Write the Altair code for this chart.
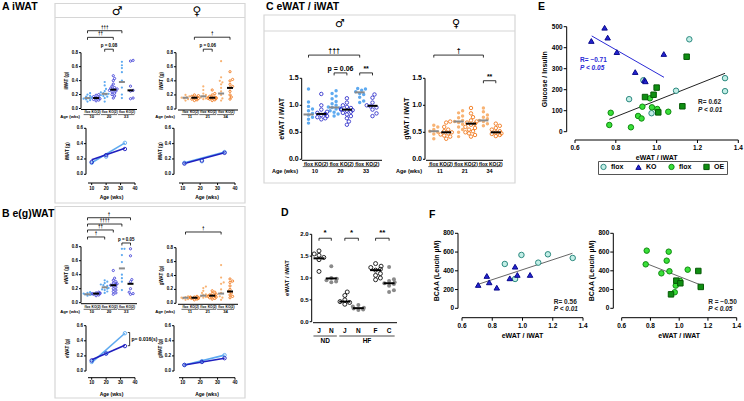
import altair as alt
import numpy as np
import pandas as pd

W, H = 744, 401
FONT = "Liberation Sans"

# ---------------- data ----------------
GROUPS = ["flox", "KO(2)", "flox", "KO(2)", "flox", "KO(2)"]
AGES_M = [10, 20, 33]
AGES_F = [11, 21, 34]

# A iWAT (g)
A_M = [
    [0.22, 0.20, 0.18, 0.17, 0.16, 0.15, 0.15, 0.14, 0.13, 0.12, 0.10],
    [0.20, 0.19, 0.17, 0.16, 0.15, 0.14, 0.13, 0.12, 0.11],
    [0.38, 0.33, 0.28, 0.25, 0.23, 0.22, 0.21, 0.20, 0.19, 0.18, 0.17, 0.15, 0.10],
    [0.47, 0.43, 0.40, 0.35, 0.32, 0.30, 0.29, 0.28, 0.27, 0.26, 0.25, 0.24, 0.22, 0.20, 0.18, 0.15],
    [0.67, 0.62, 0.58, 0.52, 0.40, 0.30, 0.20, 0.15],
    [0.69, 0.68, 0.32, 0.26, 0.25, 0.15, 0.14],
]
A_M_MED = [0.15, 0.15, 0.21, 0.27, 0.38, 0.26]
A_F = [
    [0.20, 0.18, 0.17, 0.16, 0.15, 0.14, 0.12],
    [0.20, 0.19, 0.18, 0.17, 0.16, 0.15, 0.14, 0.13, 0.12],
    [0.32, 0.27, 0.22, 0.20, 0.18, 0.17, 0.16, 0.15, 0.14],
    [0.27, 0.22, 0.20, 0.18, 0.17, 0.16, 0.16, 0.15, 0.15, 0.14, 0.13, 0.12],
    [0.68, 0.45, 0.40, 0.38, 0.35, 0.30, 0.25, 0.20, 0.15, 0.12],
    [0.53, 0.42, 0.40, 0.35, 0.32, 0.30, 0.25, 0.20, 0.17, 0.14],
]
A_F_MED = [0.16, 0.16, 0.18, 0.16, 0.22, 0.30]
A_M_LINE_FLOX = [0.15, 0.23, 0.41]
A_M_LINE_KO = [0.16, 0.25, 0.33]
A_M_FIT_FLOX = [0.15, 0.41]
A_M_FIT_KO = [0.19, 0.34]
A_F_LINE_FLOX = [0.15, 0.17, 0.29]
A_F_LINE_KO = [0.14, 0.18, 0.28]
A_F_FIT_FLOX = [0.15, 0.29]
A_F_FIT_KO = [0.14, 0.28]

# B e(g)WAT (g)
B_M = [
    [0.15, 0.14, 0.13, 0.13, 0.12, 0.12, 0.11, 0.10],
    [0.15, 0.14, 0.14, 0.13, 0.13, 0.12, 0.11, 0.10],
    [0.32, 0.30, 0.28, 0.26, 0.25, 0.24, 0.22, 0.21, 0.20, 0.19, 0.18, 0.16, 0.14],
    [0.46, 0.35, 0.32, 0.30, 0.28, 0.27, 0.26, 0.25, 0.24, 0.22, 0.20, 0.18, 0.16, 0.14, 0.12],
    [0.77, 0.77, 0.68, 0.58, 0.40, 0.35, 0.30, 0.18],
    [0.77, 0.67, 0.33, 0.30, 0.20, 0.15, 0.13, 0.12],
]
B_M_MED = [0.12, 0.13, 0.22, 0.25, 0.49, 0.27]
B_F = [
    [0.10, 0.09, 0.08, 0.08, 0.07, 0.06, 0.05],
    [0.10, 0.09, 0.09, 0.08, 0.08, 0.07, 0.07, 0.06, 0.05],
    [0.24, 0.22, 0.18, 0.15, 0.13, 0.12, 0.11, 0.10, 0.09, 0.08],
    [0.18, 0.16, 0.14, 0.13, 0.12, 0.11, 0.10, 0.10, 0.09, 0.08, 0.07, 0.06],
    [0.55, 0.37, 0.30, 0.28, 0.20, 0.15, 0.10, 0.08, 0.05],
    [0.35, 0.32, 0.30, 0.25, 0.20, 0.17, 0.15, 0.12, 0.10, 0.08],
]
B_F_MED = [0.08, 0.08, 0.11, 0.11, 0.14, 0.17]
B_M_LINE_FLOX = [0.12, 0.24, 0.50]
B_M_LINE_KO = [0.14, 0.23, 0.33]
B_M_FIT_FLOX = [0.11, 0.50]
B_M_FIT_KO = [0.15, 0.34]
B_F_LINE_FLOX = [0.08, 0.13, 0.21]
B_F_LINE_KO = [0.08, 0.12, 0.17]
B_F_FIT_FLOX = [0.08, 0.21]
B_F_FIT_KO = [0.08, 0.17]

# C eWAT / iWAT
C_M = [
    [1.30, 1.06, 0.98, 0.93, 0.90, 0.85, 0.82, 0.78, 0.74, 0.67],
    [1.21, 1.00, 0.92, 0.88, 0.86, 0.84, 0.82, 0.80, 0.78, 0.76, 0.74],
    [1.27, 1.22, 1.17, 1.12, 1.07, 1.03, 1.00, 0.97, 0.96, 0.95, 0.93, 0.90, 0.87, 0.84, 0.80],
    [1.13, 1.05, 1.00, 0.97, 0.95, 0.93, 0.92, 0.91, 0.90, 0.88, 0.86, 0.83, 0.80, 0.76, 0.70, 0.64],
    [1.31, 1.30, 1.28, 1.25, 1.22, 1.20, 1.15, 1.08, 1.05],
    [1.20, 1.14, 1.05, 1.00, 0.98, 0.96, 0.92, 0.85, 0.80],
]
C_M_MED = [0.83, 0.84, 0.96, 0.92, 1.24, 0.99]
C_F = [
    [0.63, 0.60, 0.55, 0.52, 0.50, 0.47, 0.38],
    [0.70, 0.68, 0.60, 0.55, 0.52, 0.50, 0.48, 0.46, 0.44, 0.42, 0.38],
    [0.90, 0.86, 0.80, 0.77, 0.72, 0.70, 0.68, 0.65, 0.60, 0.55, 0.50, 0.42],
    [0.95, 0.85, 0.78, 0.72, 0.70, 0.68, 0.66, 0.64, 0.60, 0.58, 0.55, 0.52, 0.50, 0.48, 0.45, 0.42],
    [0.95, 0.88, 0.82, 0.78, 0.75, 0.72, 0.70, 0.66, 0.62],
    [0.66, 0.62, 0.58, 0.55, 0.52, 0.50, 0.48, 0.47, 0.45, 0.43],
]
C_F_MED = [0.52, 0.50, 0.70, 0.66, 0.72, 0.50]

# D eWAT / iWAT
D_LABELS = ["J", "N", "J", "N", "F", "C"]
D_POS = [0, 1, 2.1, 3.2, 4.6, 5.7]
D_VALS = [
    [1.62, 1.55, 1.52, 1.47, 1.42, 1.15],
    [1.27, 1.00, 0.98, 0.95, 0.92, 0.90],
    [0.68, 0.60, 0.50, 0.46, 0.44, 0.40],
    [0.38, 0.35, 0.32, 0.30, 0.28, 0.27],
    [1.33, 1.27, 1.24, 1.20, 1.18, 1.10, 1.06, 1.00, 0.96],
    [1.25, 0.97, 0.93, 0.90, 0.88, 0.86, 0.82, 0.72, 0.68],
]
D_MED = [1.45, 0.99, 0.46, 0.31, 1.18, 0.88]
D_DIET = ["ND", "HF"]

# E glucose / insulin vs eWAT / iWAT
E_FLOXM_X = [1.16, 1.335, 1.335, 1.095, 0.935, 0.865, 0.975]
E_FLOXM_Y = [440, 255, 193, 195, 245, 155, 88]
E_KO_X = [0.68, 0.745, 0.76, 0.805, 0.895, 0.94, 0.945, 1.035]
E_KO_Y = [432, 495, 448, 379, 284, 246, 240, 370]
E_FLOXF_X = [0.775, 0.768, 0.874, 0.909, 0.926, 0.93, 0.977, 0.967, 1.003, 1.057]
E_FLOXF_Y = [90, 32, 21, 75, 63, 119, 116, 159, 108, 95]
E_OE_X = [0.943, 0.985, 1.0, 1.008, 1.126, 1.147]
E_OE_Y = [165, 176, 210, 92, 121, 357]
E_FIT_KO = [[0.682, 456], [1.036, 259]]
E_FIT_ALL = [[0.768, 59], [1.335, 278]]

# F BCAA vs eWAT / iWAT
F_FLOXM_X = [0.883, 0.993, 0.951, 1.104, 1.168, 1.332]
F_FLOXM_Y = [473, 569, 313, 487, 576, 537]
F_KO_X = [0.707, 0.764, 0.78, 0.83, 0.916, 0.951, 0.966, 1.05]
F_KO_Y = [249, 345, 277, 220, 320, 444, 356, 356]
F_FIT_M = [[0.707, 256], [1.33, 587]]
F_FLOXF_X = [0.774, 0.767, 0.876, 0.927, 0.913, 0.932, 1.059, 1.006, 0.976, 0.969]
F_FLOXF_Y = [615, 469, 373, 604, 508, 395, 412, 292, 242, 171]
F_OE_X = [1.133, 1.15, 0.98, 1.008, 0.943]
F_OE_Y = [398, 228, 295, 267, 149]
F_FIT_F = [[0.767, 480], [1.15, 249]]

# ---------------- style ----------------
C_FLOX_M = "#5eaaf0"
C_KO_M = "#4545d8"
C_FLOX_F = "#f8b374"
C_KO_F = "#f0781c"


def lin(dmin, dmax, rmin, rmax):
    return alt.Scale(domain=[dmin, dmax], range=[rmin, rmax], nice=False, zero=False)


def swarm(vals, ppu_y, ppu_x, r):
    order = sorted(range(len(vals)), key=lambda i: vals[i])
    placed = []
    offs = [0.0] * len(vals)
    for i in order:
        yp = vals[i] * ppu_y
        k = 0
        while True:
            m = ((k + 1) // 2) * (1 if k % 2 else -1)
            xp = m * r
            if k > 12 or all((xp - a) ** 2 + (yp - b) ** 2 >= (1.7 * r) ** 2 for a, b in placed):
                break
            k += 1
        placed.append((xp, yp))
        offs[i] = max(-0.45, min(0.45, xp / ppu_x))
    return offs


def text_px(t, x, y, size, align="left", weight="bold", color="black", font=FONT,
            baseline="middle", angle=0):
    return alt.Chart(pd.DataFrame({"t": [t]})).mark_text(
        align=align, baseline=baseline, fontSize=size, fontWeight=weight, color=color, font=font,
        angle=angle
    ).encode(x=alt.value(x), y=alt.value(y), text="t:N")


def box(x0, x1, y0, y1):
    return alt.Chart(pd.DataFrame({"a": [0]})).mark_rect(
        fillOpacity=0, stroke="#d6d6d6", strokeWidth=1.2
    ).encode(x=alt.value(x0), x2=alt.value(x1), y=alt.value(y0), y2=alt.value(y1))


def hline(x0, x1, y, color="#d6d6d6", w=1.2):
    return alt.Chart(pd.DataFrame({"a": [0]})).mark_rule(color=color, strokeWidth=w).encode(
        x=alt.value(x0), x2=alt.value(x1), y=alt.value(y))


def y_axis(ys, ax_x, ticks, labels, fs, title, title_x, ymid, tl=2.0, tfs=None):
    dom = pd.DataFrame({"a": [ticks[0]], "b": [ticks[-1]]})
    tk = pd.DataFrame({"v": ticks, "t": labels})
    return [
        alt.Chart(dom).mark_rule(color="black", strokeWidth=1)
        .encode(x=alt.value(ax_x), y=alt.Y("a:Q", scale=ys, axis=None), y2="b:Q"),
        alt.Chart(tk).mark_rule(color="black", strokeWidth=1)
        .encode(x=alt.value(ax_x - tl), x2=alt.value(ax_x), y=alt.Y("v:Q", scale=ys, axis=None)),
        alt.Chart(tk).mark_text(align="right", baseline="middle", fontSize=fs, font=FONT,
                                fontWeight="bold")
        .encode(x=alt.value(ax_x - tl - 1), y=alt.Y("v:Q", scale=ys, axis=None), text="t:N"),
        text_px(title, title_x, ymid, tfs or fs, align="center", angle=270),
    ]


def x_axis(xs, ax_y, x0, x1, ticks, labels, fs, title, title_y, xmid, tl=2.0, lab_y=None,
           tfs=None):
    dom = pd.DataFrame({"a": [x0], "b": [x1]})
    tk = pd.DataFrame({"v": ticks, "t": labels})
    out = [
        alt.Chart(dom).mark_rule(color="black", strokeWidth=1)
        .encode(y=alt.value(ax_y), x=alt.X("a:Q", scale=xs, axis=None), x2="b:Q"),
        alt.Chart(tk).mark_rule(color="black", strokeWidth=1)
        .encode(y=alt.value(ax_y), y2=alt.value(ax_y + tl), x=alt.X("v:Q", scale=xs, axis=None)),
    ]
    if labels is not None:
        out.append(
            alt.Chart(tk).mark_text(align="center", baseline="middle", fontSize=fs, font=FONT,
                                    fontWeight="bold")
            .encode(y=alt.value(lab_y if lab_y else ax_y + tl + 1 + fs * 0.6),
                    x=alt.X("v:Q", scale=xs, axis=None), text="t:N"))
    if title:
        out.append(text_px(title, xmid, title_y, tfs or fs, align="center"))
    return out


def cat_panel(vals, meds, ages, cols, c0, s, xl, xr, yax_x, ybot, ytop, ymax, ystep, ytitle,
              title_x, fs, r, msize, medw, brackets, lab_y, age_y, agetitle_x, bfs, catfs,
              positions=None, labels=None, show_age=True, open_first=False,
              med_cols=("#8a8a8a", "#000000"), tfs=None):
    ppu = (ybot - ytop) / ymax
    pos = positions if positions is not None else list(range(len(vals)))
    xs = lin((xl - c0) / s, (xr - c0) / s, xl, xr)
    ys = lin(0, ymax, ybot, ytop)
    rows = []
    for g, vs in enumerate(vals):
        offs = swarm(vs, ppu, s, r)
        for v, o in zip(vs, offs):
            rows.append(dict(x=pos[g] + o, v=v, k=g % 2))
    pts = pd.DataFrame(rows)
    filled_k, open_k = (1, 0) if open_first else (0, 1)
    fcol, ocol = (cols[1], cols[0]) if open_first else (cols[0], cols[1])
    layers = [
        alt.Chart(pts[pts.k == filled_k]).mark_point(filled=True, size=msize, color=fcol,
                                                     opacity=1)
        .encode(x=alt.X("x:Q", scale=xs, axis=None), y=alt.Y("v:Q", scale=ys, axis=None)),
        alt.Chart(pts[pts.k == open_k]).mark_point(filled=False, size=msize, color=ocol,
                                                   opacity=1, strokeWidth=0.9)
        .encode(x=alt.X("x:Q", scale=xs, axis=None), y=alt.Y("v:Q", scale=ys, axis=None)),
    ]
    md = pd.DataFrame({"x": pos, "v": meds, "c": [med_cols[i % 2] for i in range(len(meds))]})
    layers.append(
        alt.Chart(md).mark_tick(orient="horizontal", size=medw, thickness=2, opacity=1)
        .encode(x=alt.X("x:Q", scale=xs, axis=None), y=alt.Y("v:Q", scale=ys, axis=None),
                color=alt.Color("c:N", scale=None)))
    ticks = [round(i * ystep, 3) for i in range(int(round(ymax / ystep)) + 1)]
    layers += y_axis(ys, yax_x, ticks, ["%.1f" % t for t in ticks], fs, ytitle, title_x,
                     (ybot + ytop) / 2, tfs=tfs)
    layers.append(hline(xl, xr, ybot + 1, color="black", w=1))
    labs = labels if labels is not None else GROUPS
    cl = pd.DataFrame({"x": pos, "t": labs})
    layers.append(
        alt.Chart(cl).mark_text(fontSize=catfs, font=FONT, fontWeight="bold", baseline="middle")
        .encode(x=alt.X("x:Q", scale=xs, axis=None), y=alt.value(lab_y), text="t:N"))
    if show_age:
        ul = pd.DataFrame({"x": [pos[2 * i] - 0.45 for i in range(3)],
                           "x2": [pos[2 * i + 1] + 0.45 for i in range(3)]})
        layers.append(
            alt.Chart(ul).mark_rule(color="black", strokeWidth=0.6)
            .encode(x=alt.X("x:Q", scale=xs, axis=None), x2="x2:Q", y=alt.value(lab_y + 2.6)))
        ag = pd.DataFrame({"x": [(pos[2 * i] + pos[2 * i + 1]) / 2 for i in range(3)],
                           "t": [str(a) for a in ages]})
        agefs = max(catfs + 0.5, 4.2)
        layers.append(
            alt.Chart(ag).mark_text(fontSize=agefs, font=FONT, fontWeight="bold",
                                    baseline="middle")
            .encode(x=alt.X("x:Q", scale=xs, axis=None), y=alt.value(age_y), text="t:N"))
        layers.append(text_px("Age (wks)", agetitle_x, age_y, agefs, align="right"))
    if brackets:
        leg = 2.5 / ppu
        br, bt = [], []
        for a, b, h, lab in brackets:
            xa, xb = pos[a], pos[b]
            br += [dict(x=xa, x2=xb, y=h, y2=h), dict(x=xa, x2=xa, y=h, y2=h - leg),
                   dict(x=xb, x2=xb, y=h, y2=h - leg)]
            bt.append(dict(x=(xa + xb) / 2, y=h, t=lab))
        layers.append(
            alt.Chart(pd.DataFrame(br)).mark_rule(color="black", strokeWidth=0.8)
            .encode(x=alt.X("x:Q", scale=xs, axis=None), x2="x2:Q",
                    y=alt.Y("y:Q", scale=ys, axis=None), y2="y2:Q"))
        layers.append(
            alt.Chart(pd.DataFrame(bt)).mark_text(fontSize=bfs, font=FONT, fontWeight="bold",
                                                  baseline="bottom", dy=-1)
            .encode(x=alt.X("x:Q", scale=xs, axis=None), y=alt.Y("y:Q", scale=ys, axis=None),
                    text="t:N"))
    return alt.layer(*layers), xs


def line_panel(ages, flox, ko, fit_flox, fit_ko, cols, yax_x, ybot, ytop, xax_y, xl, x10, x40,
               ytitle, title_x, fs, lab_y, title_y, extra=None):
    k = (x40 - x10) / 30
    x0 = 10 - (x10 - xl) / k
    xs = lin(x0, 40, xl, x40)
    ys = lin(0, 0.6, ybot, ytop)
    pts = pd.DataFrame({"a": ages * 2, "v": flox + ko, "g": ["f"] * 3 + ["k"] * 3})
    fits = pd.DataFrame({"a": [ages[0], ages[-1]] * 2, "v": fit_flox + fit_ko,
                         "g": ["f", "f", "k", "k"]})
    cscale = alt.Scale(domain=["f", "k"], range=cols)
    layers = [
        alt.Chart(fits).mark_line(strokeWidth=1.6)
        .encode(x=alt.X("a:Q", scale=xs, axis=None), y=alt.Y("v:Q", scale=ys, axis=None),
                color=alt.Color("g:N", scale=cscale, legend=None), detail="g:N"),
        alt.Chart(pts).mark_point(size=12, strokeWidth=0.9, filled=False, opacity=1)
        .encode(x=alt.X("a:Q", scale=xs, axis=None), y=alt.Y("v:Q", scale=ys, axis=None),
                color=alt.Color("g:N", scale=cscale, legend=None)),
    ]
    yt = [0, 0.2, 0.4, 0.6]
    layers += y_axis(ys, yax_x, yt, ["%.1f" % t for t in yt], fs, ytitle, title_x,
                     (ybot + ytop) / 2)
    xt = [10, 20, 30, 40]
    layers += x_axis(xs, xax_y, x0, 40, xt, [str(t) for t in xt], fs, "Age (wks)", title_y,
                     (xl + x40) / 2, lab_y=lab_y, tfs=fs + 0.5)
    if extra is not None:
        (x, y1, y2, t) = extra
        br = pd.DataFrame([dict(x=x, x2=x, y=y1, y2=y2), dict(x=x - 1.3, x2=x, y=y1, y2=y1),
                           dict(x=x - 1.3, x2=x, y=y2, y2=y2)])
        layers.append(alt.Chart(br).mark_rule(color="black", strokeWidth=0.8)
                      .encode(x=alt.X("x:Q", scale=xs, axis=None), x2="x2:Q",
                              y=alt.Y("y:Q", scale=ys, axis=None), y2="y2:Q"))
        layers.append(alt.Chart(pd.DataFrame({"x": [x + 1.2], "y": [(y1 + y2) / 2], "t": [t]}))
                      .mark_text(align="left", baseline="middle", fontSize=5, font=FONT,
                                 fontWeight="bold")
                      .encode(x=alt.X("x:Q", scale=xs, axis=None),
                              y=alt.Y("y:Q", scale=ys, axis=None), text="t:N"))
    return alt.layer(*layers)


GDOM = ["flox_m", "KO", "flox_f", "OE"]
FILL = alt.Scale(domain=GDOM, range=["#c2eee6", "#2323d2", "#39e039", "#0f8f12"])
STROKE = alt.Scale(domain=GDOM, range=["#2d8a80", "#0a0a8a", "#118a11", "#075a07"])
SHAPE = alt.Scale(domain=GDOM, range=["circle", "triangle-up", "circle", "square"])
LEG = alt.Legend(orient="none", legendX=598, legendY=161, direction="horizontal", title=None,
                 labelExpr="split(datum.label, '_')[0]", labelFont=FONT, labelFontSize=7,
                 labelFontWeight="bold", symbolSize=28, strokeColor="#555", padding=2,
                 columnPadding=9, labelOffset=4, symbolStrokeWidth=1, columns=4)


def corr_panel(groups, fits, yax_x, ybot, ytop, ymax, ystep, xax_y, xl, xr, ytitle, title_x,
               notes, lab_y, title_y):
    xs = lin(0.6, 1.4, xl, xr)
    ys = lin(0, ymax, ybot, ytop)
    rows = []
    for g, xsv, ysv in groups:
        for a, b in zip(xsv, ysv):
            rows.append(dict(r=a, v=b, g=g))
    pts = pd.DataFrame(rows)
    layers = []
    yt = list(range(0, ymax + 1, ystep))
    layers += y_axis(ys, yax_x, yt, [str(t) for t in yt], 6.5, ytitle, title_x,
                     (ybot + ytop) / 2, tl=3, tfs=7)
    xt = [0.6, 0.8, 1.0, 1.2, 1.4]
    layers += x_axis(xs, xax_y, 0.6, 1.4, xt, ["%.1f" % t for t in xt], 6.5, "eWAT / iWAT",
                     title_y, (xl + xr) / 2, tl=3, lab_y=lab_y, tfs=7)
    for (p0, p1, col) in fits:
        fd = pd.DataFrame({"r": [p0[0], p1[0]], "v": [p0[1], p1[1]]})
        layers.append(alt.Chart(fd).mark_line(color=col, strokeWidth=1)
                      .encode(x=alt.X("r:Q", scale=xs, axis=None),
                              y=alt.Y("v:Q", scale=ys, axis=None)))
    layers.append(
        alt.Chart(pts).mark_point(filled=True, size=30, strokeWidth=1, opacity=1)
        .encode(x=alt.X("r:Q", scale=xs, axis=None), y=alt.Y("v:Q", scale=ys, axis=None),
                fill=alt.Fill("g:N", scale=FILL, legend=LEG),
                stroke=alt.Stroke("g:N", scale=STROKE, legend=LEG),
                shape=alt.Shape("g:N", scale=SHAPE, legend=LEG)))
    for (x, y, t, col, style) in notes:
        layers.append(alt.Chart(pd.DataFrame({"x": [x], "y": [y], "t": [t]}))
                      .mark_text(align="left", baseline="middle", fontSize=6.5, font=FONT,
                                 fontWeight="bold", color=col, fontStyle=style)
                      .encode(x=alt.X("x:Q", scale=xs, axis=None),
                              y=alt.Y("y:Q", scale=ys, axis=None), text="t:N"))
    return alt.layer(*layers)


# ---------------- panels ----------------
panels = []

# frames and headers
panels += [box(55, 245, 3.5, 203), hline(55, 245, 17.5), box(55, 245, 206.5, 398),
           box(264, 515, 15, 183), hline(264, 515, 31)]
panels += [text_px("♂", 117, 10.5, 12, align="center", weight="normal", font="DejaVu Sans"),
           text_px("♀", 197, 10.5, 12, align="center", weight="normal", font="DejaVu Sans"),
           text_px("♂", 340, 23.5, 11, align="center", weight="normal", font="DejaVu Sans"),
           text_px("♀", 456, 23.5, 11, align="center", weight="normal", font="DejaVu Sans")]
panels += [text_px("A  iWAT", 2, 7, 10.5), text_px("B e(g)WAT", 2, 214, 10.5),
           text_px("C  eWAT / iWAT", 266, 6.5, 10.5), text_px("D", 281, 213, 10.5),
           text_px("E", 538, 7, 10.5), text_px("F", 429, 215, 10.5)]

CATFS_AB = 3.3

# A scatter
panels.append(cat_panel(A_M, A_M_MED, AGES_M, [C_FLOX_M, C_KO_M], 87.5, 8.6, 81, 137, 81, 108.5,
                        52.7, 0.8, 0.2, "iWAT (g)", 66.5, 4.5, 1.3, 5, 6,
                        [(0, 4, 1.115, "†††"), (0, 3, 1.02, "††"), (2, 3, 0.85, "p = 0.08")],
                        112, 117, 80, 4.5, CATFS_AB)[0])
panels.append(cat_panel(A_F, A_F_MED, AGES_F, [C_FLOX_F, C_KO_F], 185.5, 8.9, 178, 238, 176, 109,
                        52.7, 0.8, 0.2, "iWAT (g)", 162, 4.5, 1.3, 5, 6,
                        [(1, 5, 1.02, "†"), (2, 3, 0.85, "p = 0.06")],
                        112, 117, 175, 4.5, CATFS_AB)[0])
panels.append(line_panel(AGES_M, A_M_LINE_FLOX, A_M_LINE_KO, A_M_FIT_FLOX, A_M_FIT_KO,
                         [C_FLOX_M, "#1f1fbf"], 86, 174.3, 128.3, 183, 88, 91.7, 135,
                         "iWAT (g)", 68, 4.5, 188.5, 196.5))
panels.append(line_panel(AGES_F, A_F_LINE_FLOX, A_F_LINE_KO, A_F_FIT_FLOX, A_F_FIT_KO,
                         [C_FLOX_F, C_KO_F], 174, 174.3, 128.3, 183, 179, 182.7, 235,
                         "iWAT (g)", 160.5, 4.5, 188.5, 196.5))

# B scatter
panels.append(cat_panel(B_M, B_M_MED, AGES_M, [C_FLOX_M, C_KO_M], 87.5, 8.6, 81, 137, 81, 302.7,
                        246.7, 0.8, 0.2, "eWAT (g)", 66.5, 4.5, 1.3, 5, 6,
                        [(0, 5, 1.214, "†"), (0, 4, 1.124, "††††"), (0, 3, 1.039, "††"),
                         (0, 2, 0.939, "†"), (4, 5, 0.853, "p = 0.05")],
                        306.7, 311.7, 80, 4.5, CATFS_AB)[0])
panels.append(cat_panel(B_F, B_F_MED, AGES_F, [C_FLOX_F, C_KO_F], 185.5, 8.9, 178, 238, 176, 303.3,
                        247.7, 0.8, 0.2, "gWAT (g)", 162, 4.5, 1.3, 5, 6,
                        [(0, 4, 1.026, "†")],
                        306.7, 311.7, 175, 4.5, CATFS_AB)[0])
panels.append(line_panel(AGES_M, B_M_LINE_FLOX, B_M_LINE_KO, B_M_FIT_FLOX, B_M_FIT_KO,
                         [C_FLOX_M, "#1f1fbf"], 86, 371, 325.7, 377.7, 88, 91.7, 135,
                         "eWAT (g)", 68, 4.5, 383.3, 393.5,
                         extra=(36.3, 0.51, 0.335, "p= 0.016(s)")))
panels.append(line_panel(AGES_F, B_F_LINE_FLOX, B_F_LINE_KO, B_F_FIT_FLOX, B_F_FIT_KO,
                         [C_FLOX_F, C_KO_F], 174, 371, 325.7, 377.7, 179, 182.7, 235,
                         "gWAT (g)", 160.5, 4.5, 383.3, 393.5))

# C
panels.append(cat_panel(C_M, C_M_MED, AGES_M, [C_FLOX_M, "#3535cc"], 308.5, 12.8, 302, 382, 301.7,
                        159.3, 78.3, 1.5, 0.5, "eWAT / iWAT", 282, 7, 2.0, 12, 10,
                        [(0, 4, 1.93, "†††"), (2, 3, 1.60, "p = 0.06"), (4, 5, 1.60, "**")],
                        164, 171, 298, 7, 5)[0])
panels.append(cat_panel(C_F, C_F_MED, AGES_F, [C_FLOX_F, C_KO_F], 433.8, 12.4, 426, 503, 425,
                        159.3, 78.3, 1.5, 0.5, "gWAT / iWAT", 407, 7, 2.0, 12, 10,
                        [(0, 4, 1.93, "†"), (4, 5, 1.455, "**")],
                        164, 171, 422, 7, 5)[0])

# D
d_layer, d_xs = cat_panel(D_VALS, D_MED, [0, 0, 0], ["#111111", "#8a8a8a"], 319, 12.3, 313, 397,
                          311.7, 321.7, 234.3, 2.0, 0.5, "eWAT / iWAT", 287, 6, 2.4, 16, 11,
                          [(0, 1, 1.91, "*"), (2, 3, 1.91, "*"), (4, 5, 1.91, "**")],
                          331, 341, 0, 8, 6.5, positions=D_POS, labels=D_LABELS, show_age=False,
                          open_first=True, med_cols=("#000000", "#000000"))
panels.append(d_layer)
panels.append(alt.layer(
    alt.Chart(pd.DataFrame({"x": [0.5, 3.9], "t": D_DIET}))
    .mark_text(fontSize=6.5, font=FONT, fontWeight="bold", baseline="middle")
    .encode(x=alt.X("x:Q", scale=d_xs, axis=None), y=alt.value(341), text="t:N"),
    alt.Chart(pd.DataFrame({"x": [-0.45, 1.65], "x2": [1.45, 6.15]}))
    .mark_rule(color="black", strokeWidth=0.7)
    .encode(x=alt.X("x:Q", scale=d_xs, axis=None), x2="x2:Q", y=alt.value(336)),
))

# E
panels.append(corr_panel(
    [("flox_m", E_FLOXM_X, E_FLOXM_Y), ("KO", E_KO_X, E_KO_Y), ("flox_f", E_FLOXF_X, E_FLOXF_Y),
     ("OE", E_OE_X, E_OE_Y)],
    [(E_FIT_KO[0], E_FIT_KO[1], "#2a2ad6"), (E_FIT_ALL[0], E_FIT_ALL[1], "#222222")],
    566.7, 131.7, 26.7, 500, 100, 140, 575, 738.3, "Glucose / Insulin", 545,
    [(0.625, 340, "R= \u22120.71", "#2a2ad6", "normal"),
     (0.625, 302, "P < 0.05", "#2a2ad6", "italic"),
     (1.203, 141, "R= 0.62", "#222222", "normal"), (1.203, 103, "P < 0.01", "#222222", "italic")],
    147.5, 158))

# F
panels.append(corr_panel(
    [("flox_m", F_FLOXM_X, F_FLOXM_Y), ("KO", F_KO_X, F_KO_Y)],
    [(F_FIT_M[0], F_FIT_M[1], "#666666")],
    458, 308.3, 233.3, 800, 200, 317.7, 462, 583, "BCAA (Leucin \u00b5M)", 437,
    [(1.207, 70, "R= 0.56", "#222222", "normal"), (1.207, -8, "P < 0.01", "#222222", "italic")],
    326, 335.5))
panels.append(corr_panel(
    [("flox_f", F_FLOXF_X, F_FLOXF_Y), ("OE", F_OE_X, F_OE_Y)],
    [(F_FIT_F[0], F_FIT_F[1], "#666666")],
    613.3, 308.3, 233.3, 800, 200, 317.7, 621.7, 736.7, "BCAA (Leucin \u00b5M)", 592,
    [(1.202, 70, "R = \u22120.50", "#222222", "normal"),
     (1.202, -8, "P < 0.05", "#222222", "italic")],
    326, 335.5))

chart = (
    alt.layer(*panels)
    .resolve_scale(x="independent", y="independent")
    .properties(width=W, height=H, autosize=alt.AutoSizeParams(type="none"), padding=0)
    .configure_view(stroke=None)
)

chart.save("out.html", embed_options={"renderer": "svg", "actions": False})
